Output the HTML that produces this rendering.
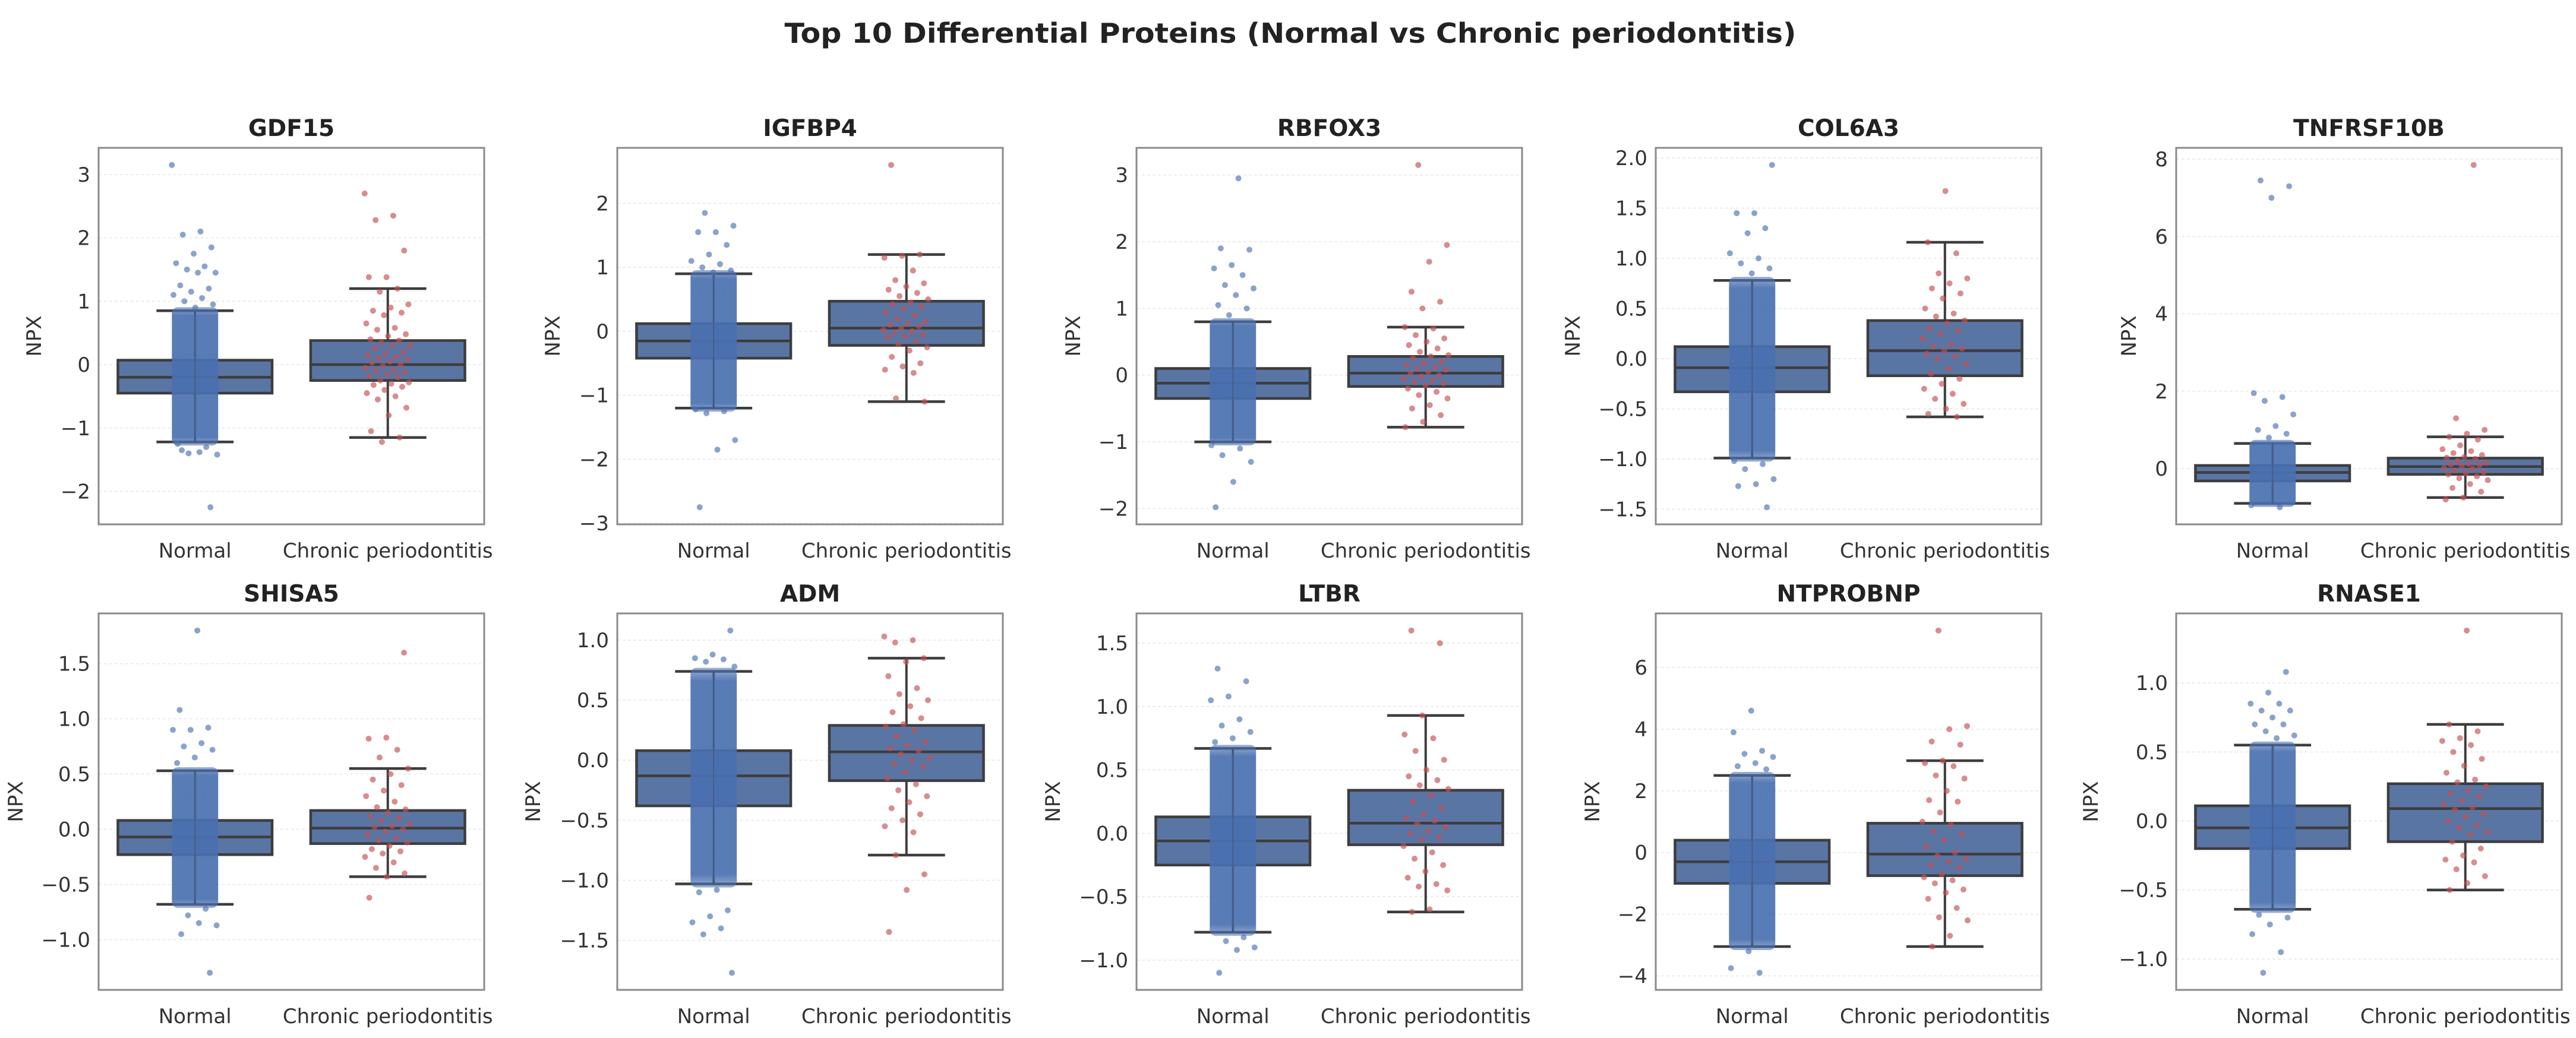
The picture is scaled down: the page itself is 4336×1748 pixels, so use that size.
<!DOCTYPE html>
<html><head><meta charset="utf-8"><style>
html,body{margin:0;padding:0;background:#fff;}
svg{display:block;font-family:"DejaVu Sans","Liberation Sans",sans-serif;}
</style></head><body>
<svg id="fig" width="4336" height="1748" viewBox="0 0 4336 1748" xmlns="http://www.w3.org/2000/svg">
<defs>
<linearGradient id="cloudGrad" x1="0" y1="0" x2="0" y2="1">
<stop offset="0" stop-color="#4a70b0" stop-opacity="0.55"/>
<stop offset="0.06" stop-color="#4a70b0" stop-opacity="0.92"/>
<stop offset="0.94" stop-color="#4a70b0" stop-opacity="0.92"/>
<stop offset="1" stop-color="#4a70b0" stop-opacity="0.55"/>
</linearGradient>
</defs>
<rect width="4336" height="1748" fill="#fff"/>
<text x="2172" y="72" text-anchor="middle" font-size="46" font-weight="bold" fill="#222" textLength="1703" lengthAdjust="spacingAndGlyphs">Top 10 Differential Proteins (Normal vs Chronic periodontitis)</text>
</svg>
<script>
// ---- data ----
const proteins = ["GDF15","IGFBP4","RBFOX3","COL6A3","TNFRSF10B","SHISA5","ADM","LTBR","NTPROBNP","RNASE1"];
const categories = ["Normal","Chronic periodontitis"];
// box stats: [whiskerLow, q1, median, q3, whiskerHigh]
const normalStats = [
 [-1.22,-0.45,-0.2,0.07,0.85],
 [-1.2,-0.42,-0.15,0.12,0.9],
 [-1.0,-0.35,-0.12,0.1,0.8],
 [-0.99,-0.33,-0.09,0.12,0.78],
 [-0.9,-0.32,-0.1,0.08,0.65],
 [-0.68,-0.23,-0.07,0.08,0.53],
 [-1.03,-0.38,-0.13,0.08,0.74],
 [-0.78,-0.25,-0.06,0.13,0.67],
 [-3.05,-1.0,-0.3,0.4,2.5],
 [-0.64,-0.2,-0.05,0.11,0.55]
];
const chronicStats = [
 [-1.15,-0.25,0.0,0.38,1.2],
 [-1.1,-0.22,0.05,0.47,1.2],
 [-0.78,-0.17,0.03,0.28,0.72],
 [-0.58,-0.17,0.08,0.38,1.16],
 [-0.75,-0.15,0.05,0.27,0.82],
 [-0.43,-0.13,0.01,0.17,0.55],
 [-0.79,-0.17,0.07,0.29,0.85],
 [-0.62,-0.09,0.08,0.34,0.93],
 [-3.05,-0.75,-0.05,0.95,2.98],
 [-0.5,-0.15,0.09,0.27,0.7]
];
const normalSparse = [
 [3.15,2.1,2.05,1.85,1.75,1.6,1.55,1.5,1.45,1.45,1.25,1.2,1.15,1.1,1.05,1.0,0.95,0.9,-1.25,-1.3,-1.4,-1.42,-1.38,-1.35,-2.25],
 [1.85,1.65,1.55,1.55,1.35,1.2,1.1,1.05,1.0,0.95,0.92,-1.22,-1.25,-1.28,-1.7,-1.85,-2.75],
 [2.95,1.9,1.88,1.65,1.6,1.5,1.35,1.3,1.2,1.05,1.0,0.9,-1.05,-1.1,-1.2,-1.3,-1.6,-1.98],
 [1.93,1.45,1.45,1.3,1.25,1.05,1.0,0.95,0.9,0.85,-1.02,-1.05,-1.1,-1.2,-1.25,-1.27,-1.48],
 [7.45,7.3,7.0,1.95,1.85,1.75,1.4,1.1,1.0,0.9,0.8,-0.95,-1.0],
 [1.8,1.08,0.92,0.9,0.9,0.78,0.75,0.72,0.65,0.6,-0.72,-0.78,-0.87,-0.85,-0.95,-1.3],
 [1.08,0.88,0.85,0.84,0.82,0.78,-1.08,-1.1,-1.25,-1.3,-1.35,-1.4,-1.45,-1.77],
 [1.3,1.2,1.08,1.05,0.9,0.85,0.8,0.75,0.72,-0.82,-0.85,-0.9,-0.92,-1.1],
 [4.6,3.9,3.3,3.2,3.1,2.9,2.8,2.7,-3.2,-3.75,-3.9],
 [1.08,0.93,0.85,0.85,0.8,0.8,0.75,0.7,0.7,0.65,0.62,0.6,-0.68,-0.7,-0.75,-0.82,-0.95,-1.1]
];
const chronicPoints = [
 [2.7,2.35,2.28,1.8,1.38,1.38,1.2,1.15,0.95,0.9,0.85,0.82,0.78,0.65,0.58,0.55,0.48,0.45,0.4,0.38,0.35,0.3,0.3,0.25,0.2,0.18,0.15,0.12,0.1,0.08,0.05,0.03,0.0,-0.02,-0.05,-0.08,-0.1,-0.12,-0.15,-0.18,-0.2,-0.25,-0.28,-0.3,-0.32,-0.35,-0.4,-0.45,-0.5,-0.55,-0.68,-0.8,-1.05,-1.15,-1.22],
 [2.6,1.2,1.18,1.15,0.95,0.8,0.75,0.7,0.65,0.6,0.55,0.5,0.45,0.42,0.38,0.35,0.3,0.25,0.2,0.15,0.12,0.1,0.08,0.05,0.02,0.0,-0.03,-0.05,-0.08,-0.1,-0.15,-0.2,-0.25,-0.3,-0.4,-0.5,-0.55,-0.6,-0.65,-1.05,-1.1],
 [3.15,1.95,1.7,1.25,1.1,1.0,0.72,0.7,0.6,0.55,0.5,0.45,0.4,0.35,0.3,0.28,0.25,0.2,0.18,0.15,0.12,0.1,0.08,0.05,0.03,0.0,-0.02,-0.05,-0.08,-0.1,-0.12,-0.15,-0.2,-0.25,-0.3,-0.35,-0.45,-0.5,-0.6,-0.7,-0.78],
 [1.67,1.16,1.05,0.85,0.8,0.75,0.7,0.65,0.6,0.5,0.45,0.42,0.38,0.35,0.3,0.28,0.25,0.2,0.15,0.12,0.1,0.08,0.05,0.02,0.0,-0.05,-0.1,-0.15,-0.2,-0.25,-0.3,-0.35,-0.4,-0.45,-0.5,-0.55,-0.58],
 [7.85,1.3,1.0,0.9,0.82,0.75,0.6,0.5,0.45,0.4,0.35,0.3,0.28,0.25,0.2,0.15,0.12,0.1,0.08,0.05,0.02,0.0,-0.05,-0.1,-0.12,-0.15,-0.2,-0.25,-0.3,-0.4,-0.5,-0.6,-0.75,-0.8],
 [1.6,0.83,0.82,0.72,0.65,0.55,0.5,0.45,0.4,0.35,0.3,0.25,0.2,0.18,0.15,0.12,0.1,0.08,0.05,0.03,0.02,0.0,-0.02,-0.05,-0.08,-0.1,-0.12,-0.15,-0.18,-0.2,-0.22,-0.25,-0.3,-0.35,-0.4,-0.43,-0.62],
 [1.03,1.0,0.98,0.85,0.82,0.7,0.6,0.55,0.5,0.45,0.4,0.35,0.3,0.28,0.25,0.2,0.15,0.12,0.1,0.08,0.05,0.02,0.0,-0.03,-0.05,-0.1,-0.15,-0.2,-0.25,-0.3,-0.35,-0.4,-0.45,-0.5,-0.55,-0.6,-0.79,-0.95,-1.08,-1.43],
 [1.6,1.5,0.93,0.78,0.75,0.65,0.58,0.5,0.45,0.42,0.38,0.35,0.3,0.25,0.2,0.15,0.12,0.1,0.08,0.05,0.02,0.0,-0.03,-0.05,-0.1,-0.15,-0.2,-0.25,-0.3,-0.35,-0.4,-0.42,-0.45,-0.6,-0.62],
 [7.2,4.1,4.0,3.6,3.5,2.98,2.9,2.8,2.5,2.4,2.0,1.7,1.65,1.3,1.0,0.9,0.7,0.6,0.4,0.2,0.0,-0.1,-0.2,-0.3,-0.4,-0.5,-0.7,-0.8,-0.9,-1.0,-1.2,-1.3,-1.5,-1.8,-2.1,-2.2,-2.7,-3.05],
 [1.38,0.7,0.65,0.6,0.58,0.55,0.5,0.45,0.4,0.35,0.3,0.28,0.25,0.22,0.2,0.18,0.15,0.12,0.1,0.08,0.05,0.03,0.0,-0.03,-0.05,-0.08,-0.1,-0.15,-0.2,-0.25,-0.28,-0.3,-0.35,-0.4,-0.45,-0.5]
];
const yTicks = [
 [-2,-1,0,1,2,3],[-3,-2,-1,0,1,2],[-2,-1,0,1,2,3],[-1.5,-1.0,-0.5,0.0,0.5,1.0,1.5,2.0],[0,2,4,6,8],
 [-1.0,-0.5,0.0,0.5,1.0,1.5],[-1.5,-1.0,-0.5,0.0,0.5,1.0],[-1.0,-0.5,0.0,0.5,1.0,1.5],[-4,-2,0,2,4,6],[-1.0,-0.5,0.0,0.5,1.0]
];
const tickDecimals = [0,0,0,1,0,1,1,1,0,1];

// ---- layout ----
const SVGNS = "http://www.w3.org/2000/svg";
const fig = document.getElementById('fig');
const PW = 649, PH = 634;
const colLeft = [166,1039,1913,2787,3663];
const rowTop = [249,1033];
const ylabelOffset = [109,109,107,140,80,140,142,141,107,144];
function mk(tag, attrs, parent){
  const e = document.createElementNS(SVGNS, tag);
  for (const k in attrs) e.setAttribute(k, attrs[k]);
  (parent||fig).appendChild(e);
  return e;
}
function fmt(v,d){ const s = v.toFixed(d); return s.startsWith('-') ? '\u2212'+s.slice(1) : s; }

proteins.forEach((name, p) => {
  const L = colLeft[p%5], T = rowTop[Math.floor(p/5)];
  const g = mk('g', {});
  
  
  const all = [].concat(normalStats[p], chronicStats[p], normalSparse[p], chronicPoints[p]);
  const mn = Math.min(...all), mx = Math.max(...all), pad = (mx-mn)*0.05;
  const y0 = mn-pad, y1 = mx+pad;
  const Y = v => T + PH - (v - y0)/(y1 - y0)*PH;
  const X = c => L + (c + 0.5)/2*PW;
  yTicks[p].forEach(t => {
    const yy = Y(t);
    const gl = mk('line', {x1:L, x2:L+PW, y1:yy, y2:yy, stroke:'#ececec', 'stroke-width':2, 'stroke-dasharray':'5,4'}, g);
    
    
    const tl = mk('text', {x:L-14, y:yy+12, 'text-anchor':'end', 'font-size':34, fill:'#333'}, g);
    
    
    tl.textContent = fmt(t, tickDecimals[p]);
  });
  [normalStats[p], chronicStats[p]].forEach((s, c) => {
    const cx = X(c), hw = 0.4*PW/2, cw = 0.2*PW/2;
    const wl = mk('line', {x1:cx, x2:cx, y1:Y(s[0]), y2:Y(s[4]), stroke:'#3d3d3d', 'stroke-width':4}, g);
    
    
    [s[0], s[4]].forEach(v => {
      const cap = mk('line', {x1:cx-cw, x2:cx+cw, y1:Y(v), y2:Y(v), stroke:'#3d3d3d', 'stroke-width':4.5}, g);
      
      
    });
    const b = mk('rect', {x:cx-hw, y:Y(s[3]), width:2*hw, height:Y(s[1])-Y(s[3]), fill:'#5975a4', stroke:'#3d3d3d', 'stroke-width':4.5}, g);
    
    
    const md = mk('line', {x1:cx-hw, x2:cx+hw, y1:Y(s[2]), y2:Y(s[2]), stroke:'#3d3d3d', 'stroke-width':4.5}, g);
    
    
  });
  const s = normalStats[p], cx0 = X(0), jw = 0.12*PW/2;
  const cloud = mk('rect', {x:cx0-jw, y:Y(s[4])-6, width:2*jw, height:Y(s[0])-Y(s[4])+12, fill:'url(#cloudGrad)', rx:10}, g);
  
  
  const wl2 = mk('line', {x1:cx0, x2:cx0, y1:Y(s[0]), y2:Y(s[4]), stroke:'#3d3d3d', 'stroke-width':2, opacity:0.35}, g);
  
  
  normalSparse[p].forEach((v, i) => {
    const jx = ((i*0.618034 + p*0.31) % 1)*2 - 1;
    const d = mk('circle', {cx:cx0 + jx*jw, cy:Y(v), r:5, fill:'#4c72b0', opacity:0.65}, g);
    
    
  });
  const cx1 = X(1);
  chronicPoints[p].forEach((v, i) => {
    const jx = ((i*0.618034 + p*0.17) % 1)*2 - 1;
    const d = mk('circle', {cx:cx1 + jx*jw, cy:Y(v), r:5, fill:'#c44e52', opacity:0.65}, g);
    
    
  });
  const fr = mk('rect', {x:L, y:T, width:PW, height:PH, fill:'none', stroke:'#8a8a8a', 'stroke-width':3}, g);
  
  
  const tt = mk('text', {x:L+PW/2, y:T-20, 'text-anchor':'middle', 'font-size':39, 'font-weight':'bold', fill:'#222'}, g);
  
  
  tt.textContent = name;
  const ly = T + PH/2, lx = L - ylabelOffset[p];
  const yl = mk('text', {x:lx, y:ly, 'text-anchor':'middle', 'font-size':34, fill:'#333', transform:'rotate(-90 '+lx+' '+ly+')', dy:12}, g);
  
  
  yl.textContent = 'NPX';
  categories.forEach((c, i) => {
    const xl = mk('text', {x:X(i), y:T+PH+56, 'text-anchor':'middle', 'font-size':34, fill:'#333'}, g);
    
    
    xl.textContent = c;
  });
});
</script>
</body></html>
